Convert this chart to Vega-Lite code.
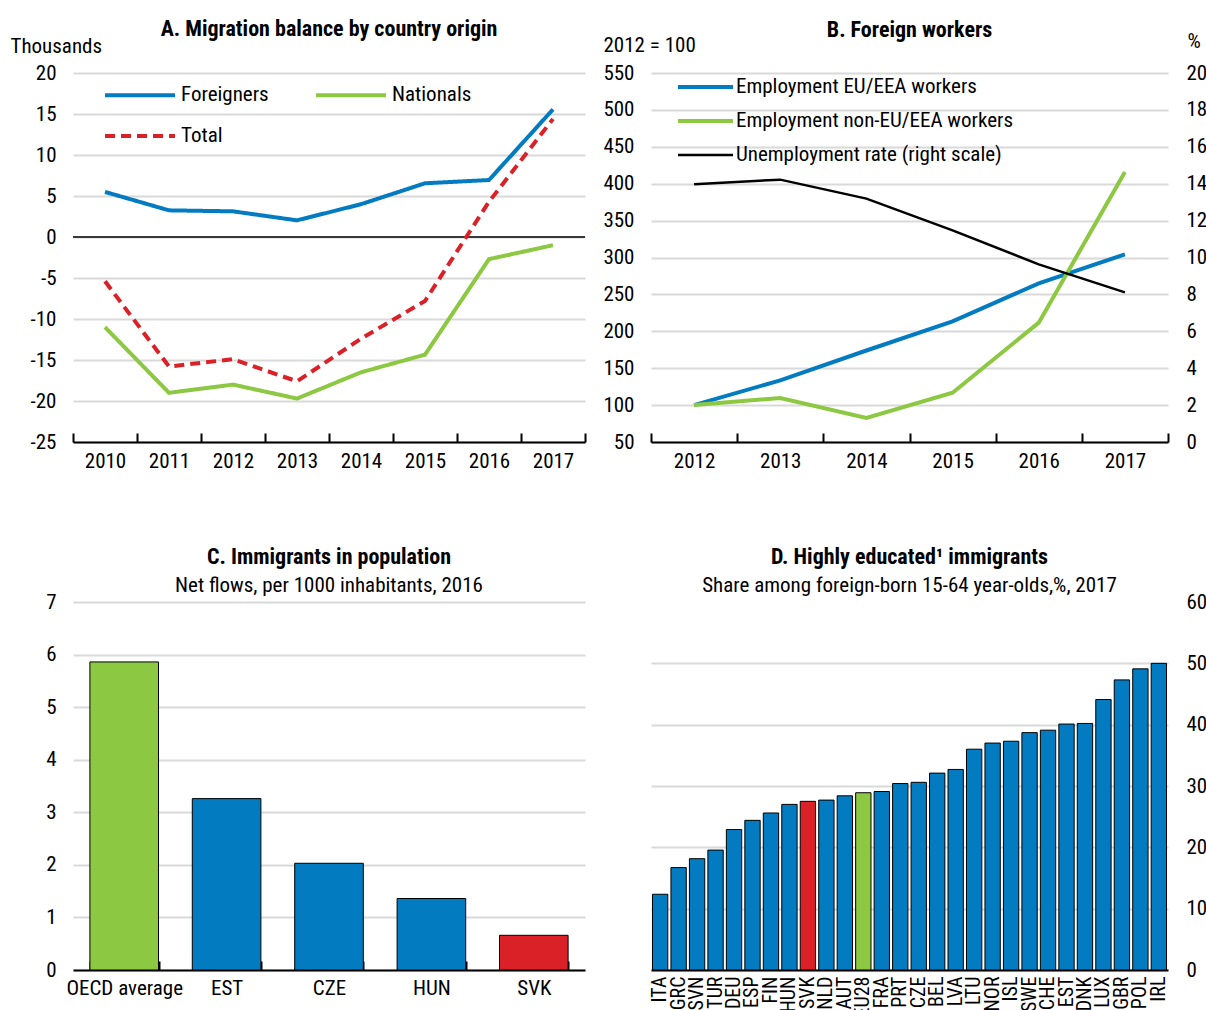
{
  "$schema": "https://vega.github.io/schema/vega-lite/v6.json",
  "padding": {"left": 10, "top": 18, "right": 4, "bottom": 0},
  "bounds": "flush",
  "columns": 2,
  "spacing": {"row": 160, "column": 66},
  "resolve": {"scale": {"color": "independent", "strokeDash": "independent"}, "legend": {"color": "independent", "strokeDash": "independent"}},
  "config": {
    "font": "Liberation Sans Narrow, Arial Narrow, Roboto Condensed, DejaVu Sans Condensed, sans-serif",
    "view": {"stroke": null},
    "axis": {"labelFontSize": 21, "labelColor": "black", "titleFontSize": 21, "titleFontWeight": "normal", "titleColor": "black", "gridColor": "#D9D9D9", "gridWidth": 2, "domainColor": "black", "tickColor": "black"},
    "title": {"fontSize": 22, "fontWeight": "bold", "subtitleFontSize": 21, "color": "black", "subtitleColor": "black", "anchor": "middle"},
    "legend": {"labelFontSize": 21, "labelColor": "black"}
  },
  "concat": [
    {
      "width": 512, "height": 369,
      "title": {"text": "A. Migration balance by country origin", "offset": -6},
      "layer": [
        {
          "data": {"values": [{}]},
          "mark": {"type": "rule", "color": "black", "strokeWidth": 1.5},
          "encoding": {"y": {"datum": 0, "type": "quantitative"}}
        },
        {
          "data": {"values": [
            {"year": "2010", "series": "Foreigners", "value": 5.5},
            {"year": "2011", "series": "Foreigners", "value": 3.25},
            {"year": "2012", "series": "Foreigners", "value": 3.13},
            {"year": "2013", "series": "Foreigners", "value": 2.03},
            {"year": "2014", "series": "Foreigners", "value": 4.0},
            {"year": "2015", "series": "Foreigners", "value": 6.55},
            {"year": "2016", "series": "Foreigners", "value": 6.95},
            {"year": "2017", "series": "Foreigners", "value": 15.57},
            {"year": "2010", "series": "Nationals", "value": -11.0},
            {"year": "2011", "series": "Nationals", "value": -19.0},
            {"year": "2012", "series": "Nationals", "value": -18.0},
            {"year": "2013", "series": "Nationals", "value": -19.7},
            {"year": "2014", "series": "Nationals", "value": -16.5},
            {"year": "2015", "series": "Nationals", "value": -14.35},
            {"year": "2016", "series": "Nationals", "value": -2.7},
            {"year": "2017", "series": "Nationals", "value": -1.0},
            {"year": "2010", "series": "Total", "value": -5.4},
            {"year": "2011", "series": "Total", "value": -15.8},
            {"year": "2012", "series": "Total", "value": -14.9},
            {"year": "2013", "series": "Total", "value": -17.6},
            {"year": "2014", "series": "Total", "value": -12.4},
            {"year": "2015", "series": "Total", "value": -7.8},
            {"year": "2016", "series": "Total", "value": 4.3},
            {"year": "2017", "series": "Total", "value": 14.4}
          ]},
          "mark": {"type": "line", "strokeWidth": 4},
          "encoding": {
            "x": {"field": "year", "type": "ordinal", "bandPosition": 0.5,
              "scale": {"type": "band", "paddingInner": 0, "paddingOuter": 0},
              "axis": {"title": null, "labelAngle": 0, "domainWidth": 2, "ticks": true, "tickBand": "extent", "tickSize": -9, "tickWidth": 2, "labelPadding": 17, "grid": false}},
            "y": {"field": "value", "type": "quantitative",
              "scale": {"domain": [-25, 20], "nice": false, "zero": false},
              "axis": {"values": [-25, -20, -15, -10, -5, 0, 5, 10, 15, 20], "labelExpr": "toString(datum.value)", "domain": false, "ticks": false, "grid": true, "labelPadding": 17,
                "title": "Thousands", "titleAngle": 0, "titleAlign": "left", "titleBaseline": "middle", "titleX": -63, "titleY": -27}},
            "color": {"field": "series", "type": "nominal",
              "scale": {"domain": ["Foreigners", "Total", "Nationals"], "range": ["#037BC1", "#DA2128", "#8CC841"]},
              "legend": {"title": null, "orient": "none", "legendX": 81, "legendY": 11.5, "columns": 2, "symbolType": "M-29.75,0H5.25", "symbolSize": 16, "symbolStrokeWidth": 4, "labelOffset": 6, "rowPadding": 19, "columnPadding": 39,
                "encode": {"symbols": {"update": {"strokeDash": {"signal": "datum.value === 'Total' ? [10, 6] : [1, 0]"}}}}}},
            "strokeDash": {"field": "series", "type": "nominal",
              "scale": {"domain": ["Foreigners", "Total", "Nationals"], "range": [[1, 0], [10, 6], [1, 0]]},
              "legend": null}
          }
        }
      ]
    },
    {
      "width": 517, "height": 369,
      "title": {"text": "B. Foreign workers", "offset": -12},
      "layer": [
        {
          "data": {"values": [
            {"year": "2012", "series": "Employment EU/EEA workers", "value": 100},
            {"year": "2013", "series": "Employment EU/EEA workers", "value": 133.6},
            {"year": "2014", "series": "Employment EU/EEA workers", "value": 174},
            {"year": "2015", "series": "Employment EU/EEA workers", "value": 213.5},
            {"year": "2016", "series": "Employment EU/EEA workers", "value": 265},
            {"year": "2017", "series": "Employment EU/EEA workers", "value": 304.3},
            {"year": "2012", "series": "Employment non-EU/EEA workers", "value": 100},
            {"year": "2013", "series": "Employment non-EU/EEA workers", "value": 109.6},
            {"year": "2014", "series": "Employment non-EU/EEA workers", "value": 82.5},
            {"year": "2015", "series": "Employment non-EU/EEA workers", "value": 116.8},
            {"year": "2016", "series": "Employment non-EU/EEA workers", "value": 211.7},
            {"year": "2017", "series": "Employment non-EU/EEA workers", "value": 415.8}
          ]},
          "mark": {"type": "line", "strokeWidth": 4},
          "encoding": {
            "x": {"field": "year", "type": "ordinal", "bandPosition": 0.5,
              "scale": {"type": "band", "paddingInner": 0, "paddingOuter": 0},
              "axis": {"title": null, "labelAngle": 0, "domainWidth": 2, "ticks": true, "tickBand": "extent", "tickSize": -9, "tickWidth": 2, "labelPadding": 17, "grid": false}},
            "y": {"field": "value", "type": "quantitative",
              "scale": {"domain": [50, 550], "nice": false, "zero": false},
              "axis": {"orient": "left", "values": [50, 100, 150, 200, 250, 300, 350, 400, 450, 500, 550], "domain": false, "ticks": false, "grid": true, "labelPadding": 17,
                "title": "2012 = 100", "titleAngle": 0, "titleAlign": "left", "titleBaseline": "middle", "titleX": -48, "titleY": -28}},
            "color": {"field": "series", "type": "nominal",
              "scale": {"domain": ["Employment EU/EEA workers", "Employment non-EU/EEA workers", "Unemployment rate (right scale)"], "range": ["#037BC1", "#8CC841", "#000000"]},
              "legend": {"title": null, "orient": "none", "legendX": 61, "legendY": 3.5, "symbolType": "M-22.25,0H5.25", "symbolSize": 16, "symbolStrokeWidth": 4, "labelOffset": 3, "rowPadding": 12, "labelLimit": 400,
                "encode": {"symbols": {"update": {"strokeWidth": {"signal": "datum.value === 'Unemployment rate (right scale)' ? 2.5 : 4"}}}}}}
          }
        },
        {
          "data": {"values": [
            {"year": "2012", "series": "Unemployment rate (right scale)", "value": 13.97},
            {"year": "2013", "series": "Unemployment rate (right scale)", "value": 14.22},
            {"year": "2014", "series": "Unemployment rate (right scale)", "value": 13.19},
            {"year": "2015", "series": "Unemployment rate (right scale)", "value": 11.47},
            {"year": "2016", "series": "Unemployment rate (right scale)", "value": 9.63},
            {"year": "2017", "series": "Unemployment rate (right scale)", "value": 8.11}
          ]},
          "mark": {"type": "line", "strokeWidth": 2.5},
          "encoding": {
            "x": {"field": "year", "type": "ordinal", "bandPosition": 0.5,
              "scale": {"type": "band", "paddingInner": 0, "paddingOuter": 0}},
            "y": {"field": "value", "type": "quantitative",
              "scale": {"domain": [0, 20], "nice": false},
              "axis": {"orient": "right", "values": [0, 2, 4, 6, 8, 10, 12, 14, 16, 18, 20], "domain": false, "ticks": false, "grid": false, "labelPadding": 18,
                "title": "%", "titleAngle": 0, "titleAlign": "left", "titleBaseline": "middle", "titleX": 19, "titleY": -32}},
            "color": {"field": "series", "type": "nominal"}
          }
        }
      ],
      "resolve": {"scale": {"y": "independent"}}
    },
    {
      "width": 512, "height": 368,
      "title": {"text": "C. Immigrants in population", "subtitle": "Net flows, per 1000 inhabitants, 2016", "offset": -6, "subtitlePadding": 6},
      "data": {"values": [
        {"country": "OECD average", "group": "OECD", "value": 5.86},
        {"country": "EST", "group": "Other", "value": 3.26},
        {"country": "CZE", "group": "Other", "value": 2.03},
        {"country": "HUN", "group": "Other", "value": 1.36},
        {"country": "SVK", "group": "SVK", "value": 0.66}
      ]},
      "mark": {"type": "bar", "stroke": "black", "strokeWidth": 1},
      "encoding": {
        "x": {"field": "country", "type": "nominal", "sort": null,
          "scale": {"paddingInner": 0.33, "paddingOuter": 0.165},
          "axis": {"title": null, "labelAngle": 0, "domainWidth": 2, "ticks": true, "tickBand": "extent", "tickSize": -9, "tickWidth": 2, "labelPadding": 16, "grid": false}},
        "y": {"field": "value", "type": "quantitative",
          "scale": {"domain": [0, 7], "nice": false},
          "axis": {"values": [0, 1, 2, 3, 4, 5, 6, 7], "domain": false, "ticks": false, "grid": true, "labelPadding": 17, "title": null}},
        "color": {"field": "group", "type": "nominal",
          "scale": {"domain": ["OECD", "Other", "SVK"], "range": ["#8CC841", "#037BC1", "#DA2128"]},
          "legend": null}
      }
    },
    {
      "width": 517, "height": 368,
      "title": {"text": "D. Highly educated¹ immigrants", "subtitle": "Share among foreign-born 15-64 year-olds,%, 2017", "offset": -6, "subtitlePadding": 6},
      "data": {"values": [
        {"country": "ITA", "group": "Other", "value": 12.35},
        {"country": "GRC", "group": "Other", "value": 16.7},
        {"country": "SVN", "group": "Other", "value": 18.15},
        {"country": "TUR", "group": "Other", "value": 19.55},
        {"country": "DEU", "group": "Other", "value": 22.9},
        {"country": "ESP", "group": "Other", "value": 24.4},
        {"country": "FIN", "group": "Other", "value": 25.6},
        {"country": "HUN", "group": "Other", "value": 27.0},
        {"country": "SVK", "group": "SVK", "value": 27.5},
        {"country": "NLD", "group": "Other", "value": 27.7},
        {"country": "AUT", "group": "Other", "value": 28.4},
        {"country": "EU28", "group": "EU28", "value": 28.9},
        {"country": "FRA", "group": "Other", "value": 29.1},
        {"country": "PRT", "group": "Other", "value": 30.4},
        {"country": "CZE", "group": "Other", "value": 30.6},
        {"country": "BEL", "group": "Other", "value": 32.1},
        {"country": "LVA", "group": "Other", "value": 32.7},
        {"country": "LTU", "group": "Other", "value": 36.0},
        {"country": "NOR", "group": "Other", "value": 37.0},
        {"country": "ISL", "group": "Other", "value": 37.3},
        {"country": "SWE", "group": "Other", "value": 38.7},
        {"country": "CHE", "group": "Other", "value": 39.1},
        {"country": "EST", "group": "Other", "value": 40.1},
        {"country": "DNK", "group": "Other", "value": 40.2},
        {"country": "LUX", "group": "Other", "value": 44.1},
        {"country": "GBR", "group": "Other", "value": 47.3},
        {"country": "POL", "group": "Other", "value": 49.1},
        {"country": "IRL", "group": "Other", "value": 50.0}
      ]},
      "mark": {"type": "bar", "stroke": "black", "strokeWidth": 1},
      "encoding": {
        "x": {"field": "country", "type": "nominal", "sort": null,
          "scale": {"paddingInner": 0.17, "paddingOuter": 0.08},
          "axis": {"title": null, "labelAngle": -90, "labelFontSize": 20, "domainWidth": 2, "ticks": false, "labelPadding": 6, "grid": false}},
        "y": {"field": "value", "type": "quantitative",
          "scale": {"domain": [0, 60], "nice": false},
          "axis": {"orient": "right", "values": [0, 10, 20, 30, 40, 50, 60], "domain": false, "ticks": false, "grid": true, "labelPadding": 18, "title": null,
            "gridOpacity": {"condition": {"test": "datum.value === 60", "value": 0}, "value": 1}}},
        "color": {"field": "group", "type": "nominal",
          "scale": {"domain": ["Other", "SVK", "EU28"], "range": ["#037BC1", "#DA2128", "#8CC841"]},
          "legend": null}
      }
    }
  ]
}
